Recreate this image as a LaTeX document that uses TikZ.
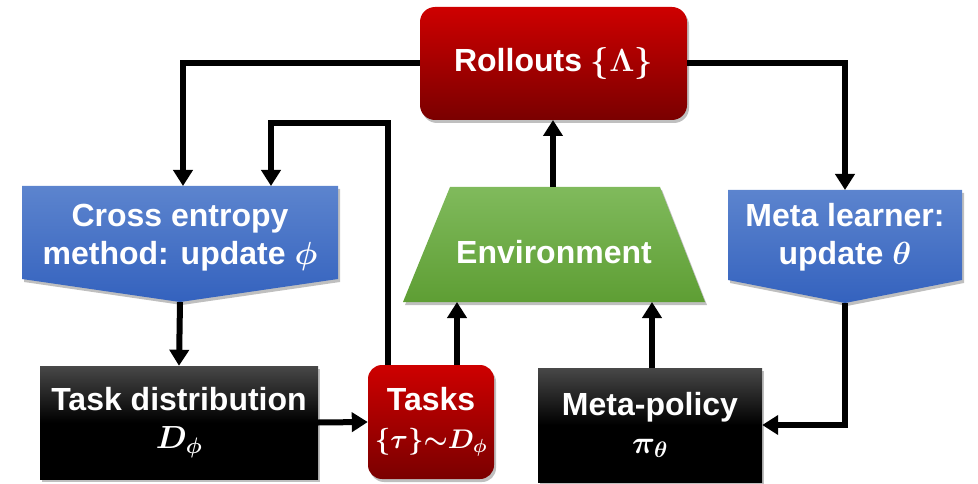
\RequirePackage{fix-cm}
\documentclass[tikz,border=0pt]{standalone}
\usepackage{amsmath}
\usepackage{bm}
\usepackage[no-math]{fontspec}
\setmainfont{Liberation Sans}
\usetikzlibrary{arrows.meta,shadows}
\definecolor{redTop}{RGB}{206,0,0}
\definecolor{redBot}{RGB}{122,0,0}
\definecolor{bluTop}{RGB}{92,132,206}
\definecolor{bluBot}{RGB}{52,98,190}
\definecolor{grnTop}{RGB}{128,186,92}
\definecolor{grnBot}{RGB}{94,158,52}
\definecolor{blkTop}{RGB}{72,72,72}
\begin{document}
\begin{tikzpicture}[x=1pt,y=-1pt,
  box/.style={inner sep=0pt, align=center, text=white, font=\fontsize{32}{38}\selectfont\bfseries\boldmath},
  dshadow/.style={drop shadow={opacity=0.25, shadow xshift=2pt, shadow yshift=-3pt, fill=black}},
  redbox/.style={box, rounded corners=15pt, top color=redTop, bottom color=redBot, dshadow},
  blackbox/.style={box, top color=blkTop, bottom color=black, middle color=black, dshadow},
  arr/.style={line width=6pt, -{Triangle[length=16pt,width=19pt]}}
]
\useasboundingbox (0,0) rectangle (978,484);

% shapes
\shade[dshadow, top color=bluTop, bottom color=bluBot] (22,186) -- (338,186) -- (338,279) -- (180,302) -- (22,279) -- cycle;
\node[inner sep=0pt, minimum width=316pt, minimum height=116pt] (ce) at (180,244) {};
\node[box] (ceText) at (180,238) {Cross entropy\\method: update $\bm{\phi}$};

\shade[dshadow, top color=bluTop, bottom color=bluBot] (728,190) -- (962,190) -- (962,280) -- (845,303) -- (728,280) -- cycle;
\node[inner sep=0pt, minimum width=234pt, minimum height=113pt] (ml) at (845,246.5) {};
\node[box] (mlText) at (845,237) {Meta learner:\\update $\bm{\theta}$};

\shade[dshadow, top color=grnTop, bottom color=grnBot] (450,187) -- (660,187) -- (705,302) -- (403,302) -- cycle;
\node[inner sep=0pt, minimum width=302pt, minimum height=115pt] (env) at (554,244.5) {};
\node[box] (envText) at (554,252) {Environment};

\node[redbox, minimum width=267pt, minimum height=113pt] (roll) at (553.5,63.5) {Rollouts $\bm{\{\Lambda\}}$};
\node[redbox, rounded corners=14pt, minimum width=126pt, minimum height=114pt] (tasks) at (431,422) {Tasks\\{\fontsize{27}{34}\selectfont$\bm{\{\tau\}\mathord{\sim}D_{\phi}}$}};
\node[blackbox, minimum width=278pt, minimum height=113pt] (tdist) at (179,422.5) {Task distribution\\$\bm{D_{\phi}}$};
\node[blackbox, minimum width=224pt, minimum height=114pt] (mp) at (650,425) {Meta-policy\\$\bm{\pi_{\theta}}$};

% connector points
\coordinate (ceIn1) at (183,186);
\coordinate (ceIn2) at (271,186);
\coordinate (loopL) at (271,123);
\coordinate (tkUp1) at (388,365);
\coordinate (tkUp2) at (457,365);
\coordinate (envIn1) at (457,302);
\coordinate (envIn2) at (652,302);
\coordinate (mpUp) at (652,368);
\coordinate (envOut) at (553,187);
\coordinate (rollIn) at (553,120);
\coordinate (mlIn) at (845,190);

% connectors
\draw[arr] (roll.west) -| (ceIn1);
\draw[arr] (roll.east) -| (mlIn);
\draw[arr] (tkUp1) |- (loopL) -- (ceIn2);
\draw[arr] (tkUp2) -- (envIn1);
\draw[arr] (mpUp) -- (envIn2);
\draw[arr] (envOut) -- (rollIn);
\draw[arr] (ce.south) -- (tdist.north);
\draw[arr] (tdist.east) -- (tasks.west);
\draw[arr] (ml.south) |- (mp.east);
\end{tikzpicture}
\end{document}
